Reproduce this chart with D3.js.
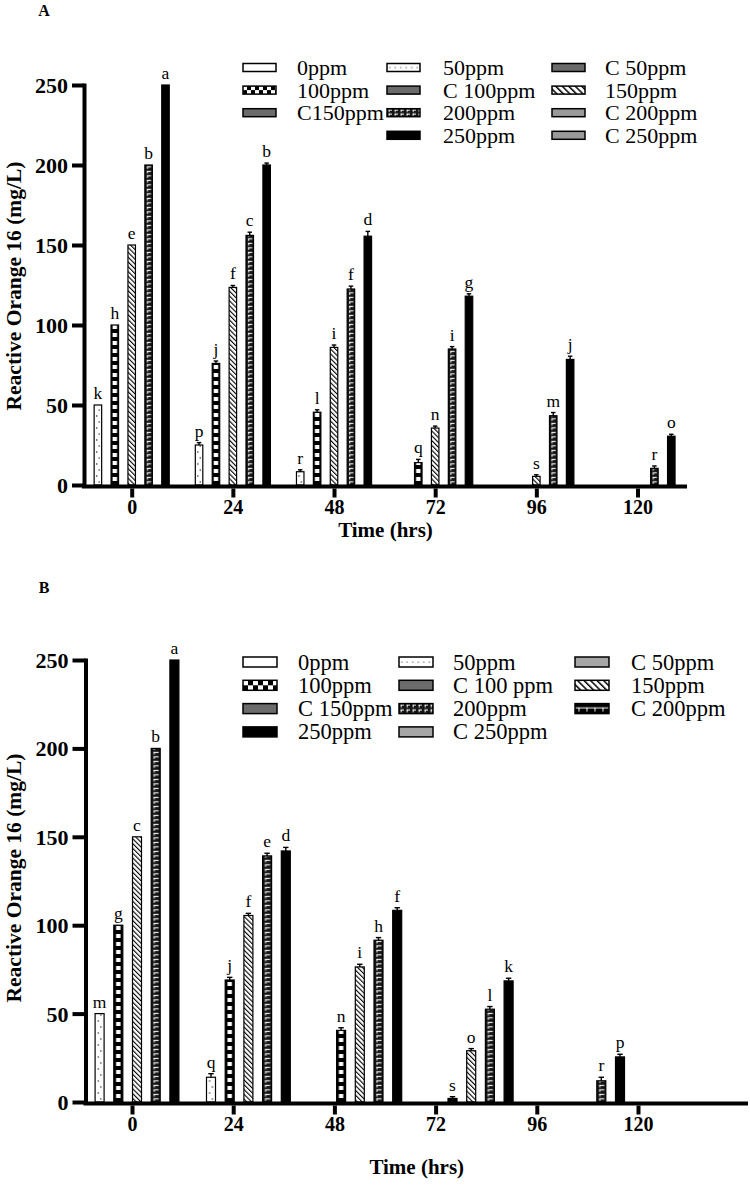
<!DOCTYPE html>
<html><head><meta charset="utf-8">
<script src="https://cdn.jsdelivr.net/npm/d3@7"></script>
<style>
body{margin:0;background:#fff}
svg{display:block}
text{font-family:"Liberation Serif","Times New Roman",serif;fill:#000}
</style>
</head><body>
<svg id="c" width="750" height="1188"></svg>
<script>
// ---------- DATA ----------
const times = ["0","24","48","72","96","120"];
const series = ["0ppm","50ppm","100ppm","150ppm","200ppm","250ppm"];
const seriesStyle = ["white","dots","check","hatch","brick","black"];
const yTicks = [0,50,100,150,200,250];

// Panel A values (mg/L)
const A_0ppm   = [0, 0, 0, 0, 0, 0];
const A_50ppm  = [50, 25, 8.3, 0, 0, 0];
const A_100ppm = [100, 76, 45.5, 14, 0, 0];
const A_150ppm = [150, 123.5, 86, 35.6, 5.4, 0];
const A_200ppm = [200, 156, 122.5, 85, 43.3, 10.4];
const A_250ppm = [250, 200, 155.5, 118, 78.5, 30.5];
const A_err_0ppm   = [0, 0, 0, 0, 0, 0];
const A_err_50ppm  = [0, 1.5, 1.2, 0, 0, 0];
const A_err_100ppm = [0, 1.5, 1.5, 2, 0, 0];
const A_err_150ppm = [0, 1.2, 1.5, 1.2, 1, 0];
const A_err_200ppm = [0, 2, 1.8, 1.5, 2, 1.5];
const A_err_250ppm = [0, 1.2, 3, 1.5, 2, 1.2];
const A_let_0ppm   = ["","","","","",""];
const A_let_50ppm  = ["k","p","r","","",""];
const A_let_100ppm = ["h","j","l","q","",""];
const A_let_150ppm = ["e","f","i","n","s",""];
const A_let_200ppm = ["b","c","f","i","m","r"];
const A_let_250ppm = ["a","b","d","g","j","o"];

// Panel B values (mg/L)
const B_0ppm   = [0, 0, 0, 0, 0, 0];
const B_50ppm  = [50, 14, 0, 0, 0, 0];
const B_100ppm = [100, 69, 40.5, 2, 0, 0];
const B_150ppm = [150, 105.5, 76.4, 29, 0, 0];
const B_200ppm = [200, 139.2, 91.5, 52.5, 12, 0];
const B_250ppm = [250, 142, 108.4, 68.5, 25.5, 0];
const B_err_0ppm   = [0, 0, 0, 0, 0, 0];
const B_err_50ppm  = [0, 2, 0, 0, 0, 0];
const B_err_100ppm = [0, 1.5, 1.5, 1, 0, 0];
const B_err_150ppm = [0, 1.2, 1.5, 1.2, 0, 0];
const B_err_200ppm = [0, 1.5, 1.5, 1.5, 2, 0];
const B_err_250ppm = [0, 2, 1.5, 1.5, 1.5, 0];
const B_let_0ppm   = ["","","","","",""];
const B_let_50ppm  = ["m","q","","","",""];
const B_let_100ppm = ["g","j","n","s","",""];
const B_let_150ppm = ["c","f","i","o","",""];
const B_let_200ppm = ["b","e","h","l","r",""];
const B_let_250ppm = ["a","d","f","k","p",""];

// Legends (column-major)
const legendA_labels = ["0ppm","100ppm","C150ppm", "50ppm","C 100ppm","200ppm","250ppm", "C 50ppm","150ppm","C 200ppm","C 250ppm"];
const legendA_styles = ["white","check","gray", "dots","gray","brick","black", "gray","hatch","lgray","lgray"];
const legendA_cols = [3,4,4];
const legendB_labels = ["0ppm","100ppm","C 150ppm","250ppm", "50ppm","C 100 ppm","200ppm","C 250ppm", "C 50ppm","150ppm","C 200ppm"];
const legendB_styles = ["white","check","gray","black", "dots","gray","brick","lgray2", "lgray2","hatch","cblack"];
const legendB_cols = [4,4,3];

// ---------- DRAW ----------
const svg = d3.select("#c");
const defs = svg.append("defs");
let pid = 0;

function hatchPattern(id, sp, lw){
  const p = defs.append("pattern").attr("id",id).attr("patternUnits","userSpaceOnUse")
    .attr("width",sp).attr("height",sp).attr("patternTransform","rotate(-45)");
  p.append("rect").attr("width",sp).attr("height",sp).attr("fill","#fff");
  p.append("rect").attr("width",lw).attr("height",sp).attr("fill","#000");
}
hatchPattern("hatchBar", 3.4, 1.1);
hatchPattern("hatchLeg", 4.6, 1.5);

function newPattern(x, y, w, h){
  const id = "p" + (pid++);
  const p = defs.append("pattern").attr("id",id).attr("patternUnits","userSpaceOnUse")
    .attr("x",x).attr("y",y).attr("width",w).attr("height",h);
  return [id, p];
}

function fillFor(type, x, y, w, h, forBar){
  switch(type){
    case "white": return "#fff";
    case "black": return "#000";
    case "gray": return "#6b6b6b";
    case "lgray": return "#9a9a9a";
    case "lgray2": return "#a6a6a6";
    case "hatch": return forBar ? "url(#hatchBar)" : "url(#hatchLeg)";
    case "dots": {
      if(forBar){
        const [id,p] = newPattern(x, y, w, 12);
        p.append("rect").attr("width",w).attr("height",12).attr("fill","#fff");
        p.append("circle").attr("cx",w*0.35).attr("cy",3).attr("r",0.65).attr("fill","#000");
        p.append("circle").attr("cx",w*0.65).attr("cy",9).attr("r",0.65).attr("fill","#000");
        return `url(#${id})`;
      } else {
        const [id,p] = newPattern(x, y, 5.5, h);
        p.append("rect").attr("width",5.5).attr("height",h).attr("fill","#fff");
        p.append("circle").attr("cx",2.75).attr("cy",h/2).attr("r",0.6).attr("fill","#000");
        return `url(#${id})`;
      }
    }
    case "check": {
      if(forBar){
        const [id,p] = newPattern(x, y, w, 8);
        p.append("rect").attr("width",w).attr("height",8).attr("fill","#000");
        p.append("rect").attr("x",(w-4.4)/2).attr("y",0).attr("width",4.4).attr("height",4).attr("fill","#fff");
        return `url(#${id})`;
      } else {
        const c = h/2;
        const [id,p] = newPattern(x, y, 2*c, 2*c);
        p.append("rect").attr("width",2*c).attr("height",2*c).attr("fill","#000");
        p.append("rect").attr("width",c).attr("height",c).attr("fill","#fff");
        p.append("rect").attr("x",c).attr("y",c).attr("width",c).attr("height",c).attr("fill","#fff");
        return `url(#${id})`;
      }
    }
    case "brick": {
      const tw = forBar ? w : 6, th = forBar ? 4.5 : h/2;
      const [id,p] = newPattern(x, y, tw, th);
      p.append("rect").attr("width",tw).attr("height",th).attr("fill","#151515");
      p.append("rect").attr("x",tw*0.28).attr("y",0.8).attr("width",tw*0.55).attr("height",1.1).attr("fill","#fff");
      p.append("rect").attr("x",tw*0.28).attr("y",0.8).attr("width",1).attr("height",th*0.58).attr("fill","#fff");
      return `url(#${id})`;
    }
    case "cblack": {
      const [id,p] = newPattern(x, y, 8, h);
      p.append("rect").attr("width",8).attr("height",h).attr("fill","#000");
      p.append("rect").attr("x",0).attr("y",h*0.38).attr("width",8).attr("height",1).attr("fill","#fff");
      p.append("rect").attr("x",3.5).attr("y",h*0.38).attr("width",1).attr("height",h*0.4).attr("fill","#fff");
      return `url(#${id})`;
    }
  }
  return "#fff";
}

function drawPanel(o){
  const g = svg.append("g");
  const y = d3.scaleLinear().domain([0,250]).range([o.yBase, o.yTop]);
  const xLab = d3.scalePoint().domain(times).range(o.labRange);
  const xBar = d3.scalePoint().domain(times).range(o.barRange);
  const pi = 1 - o.w/o.step;
  const inner = d3.scaleBand().domain(series).range([-3.5*o.step, 2.5*o.step])
    .paddingInner(pi).paddingOuter(pi/2);
  const bw = inner.bandwidth();

  series.forEach((s,si)=>{
    o.values[si].forEach((v,ti)=>{
      if(v <= 0) return;
      const x = xBar(times[ti]) + inner(s);
      const cx = x + bw/2;
      const fill = fillFor(seriesStyle[si], x, o.yBase, bw, 0, true);
      g.append("rect").attr("x",x).attr("y",y(v)).attr("width",bw).attr("height",y(0)-y(v))
        .attr("fill",fill).attr("stroke","#000").attr("stroke-width",1.2);
      const e = o.errors[si][ti];
      if(e > 0){
        g.append("line").attr("x1",cx).attr("x2",cx).attr("y1",y(v)).attr("y2",y(v+e))
          .attr("stroke","#000").attr("stroke-width",1.4);
        g.append("line").attr("x1",cx-bw*0.3).attr("x2",cx+bw*0.3).attr("y1",y(v+e)).attr("y2",y(v+e))
          .attr("stroke","#000").attr("stroke-width",1.4);
      }
      const L = o.letters[si][ti];
      if(L){
        g.append("text").attr("x",cx).attr("y",y(v+e)-6).attr("text-anchor","middle")
          .attr("font-size",o.letterSize).text(L);
      }
    });
  });

  // y axis
  const ya = g.append("g").attr("transform",`translate(${o.axisX},0)`)
    .call(d3.axisLeft(y).tickValues(yTicks).tickSize(o.tickLen).tickSizeOuter(0).tickPadding(4));
  ya.select(".domain").attr("stroke","#000").attr("stroke-width",4).attr("stroke-linecap","square");
  ya.selectAll(".tick line").attr("stroke","#000").attr("stroke-width",4);
  ya.selectAll(".tick text").attr("font-family","Liberation Serif").attr("font-weight","bold")
    .attr("font-size",22).attr("dy","0.34em");

  // x axis line
  g.append("line").attr("x1",o.axisX-2).attr("x2",o.xEnd).attr("y1",o.yBase+1.5).attr("y2",o.yBase+1.5)
    .attr("stroke","#000").attr("stroke-width",4);
  const xa = g.append("g").attr("transform",`translate(0,${o.yBase+3.5})`)
    .call(d3.axisBottom(xLab).tickSize(9).tickPadding(2));
  xa.select(".domain").remove();
  xa.selectAll(".tick line").attr("stroke","#000").attr("stroke-width",4);
  xa.selectAll(".tick text").attr("font-family","Liberation Serif").attr("font-weight","bold").attr("font-size",20);

  // titles
  g.append("text").attr("x",(o.axisX+o.xEnd)/2).attr("y",o.xTitleY).attr("text-anchor","middle")
    .attr("font-weight","bold").attr("font-size",21).text("Time (hrs)");
  g.append("text").attr("transform",`translate(${o.yTitleX},${o.yTitleCY}) rotate(-90)`)
    .attr("text-anchor","middle").attr("font-weight","bold").attr("font-size",21.5)
    .text("Reactive Orange 16 (mg/L)");
  g.append("text").attr("x",o.panelX).attr("y",o.panelY).attr("text-anchor","middle")
    .attr("font-weight","bold").attr("font-size",16).text(o.panel);
}

function drawLegend(labels, styles, cols, o){
  const g = svg.append("g");
  let k = 0;
  cols.forEach((n,c)=>{
    for(let r=0;r<n;r++,k++){
      const cy = o.rowY0 + r*o.rowH;
      const sx = o.swX[c], sy = cy - o.swH/2;
      const fill = fillFor(styles[k], sx, sy, o.swW, o.swH, false);
      g.append("rect").attr("x",sx).attr("y",sy).attr("width",o.swW).attr("height",o.swH)
        .attr("fill",fill).attr("stroke","#000").attr("stroke-width",1.5);
      g.append("text").attr("x",o.txX[c]).attr("y",cy+7.5).attr("font-size",o.fs).text(labels[k]);
    }
  });
}

drawPanel({
  panel:"A", panelX:44, panelY:16,
  yBase:485, yTop:85, axisX:84, xEnd:687, tickLen:12,
  labRange:[131.7,637.5], barRange:[131.7,637.5], step:16.9, w:7.5,
  values:[A_0ppm,A_50ppm,A_100ppm,A_150ppm,A_200ppm,A_250ppm],
  errors:[A_err_0ppm,A_err_50ppm,A_err_100ppm,A_err_150ppm,A_err_200ppm,A_err_250ppm],
  letters:[A_let_0ppm,A_let_50ppm,A_let_100ppm,A_let_150ppm,A_let_200ppm,A_let_250ppm],
  letterSize:17.5, xTitleY:537, yTitleX:21, yTitleCY:286
});
drawLegend(legendA_labels, legendA_styles, legendA_cols, {
  rowY0:67.5, rowH:22.6, swX:[243,387,552], txX:[297,443,605], swW:33, swH:8, fs:22
});

drawPanel({
  panel:"B", panelX:44, panelY:593,
  yBase:1102, yTop:660, axisX:85.5, xEnd:748, tickLen:13,
  labRange:[132,638], barRange:[137,694], step:18.7, w:9,
  values:[B_0ppm,B_50ppm,B_100ppm,B_150ppm,B_200ppm,B_250ppm],
  errors:[B_err_0ppm,B_err_50ppm,B_err_100ppm,B_err_150ppm,B_err_200ppm,B_err_250ppm],
  letters:[B_let_0ppm,B_let_50ppm,B_let_100ppm,B_let_150ppm,B_let_200ppm,B_let_250ppm],
  letterSize:17.5, xTitleY:1174, yTitleX:21, yTitleCY:878
});
drawLegend(legendB_labels, legendB_styles, legendB_cols, {
  rowY0:662, rowH:23.3, swX:[243,399,575], txX:[298,453,631], swW:34, swH:10, fs:22.5
});
</script>
</body></html>
